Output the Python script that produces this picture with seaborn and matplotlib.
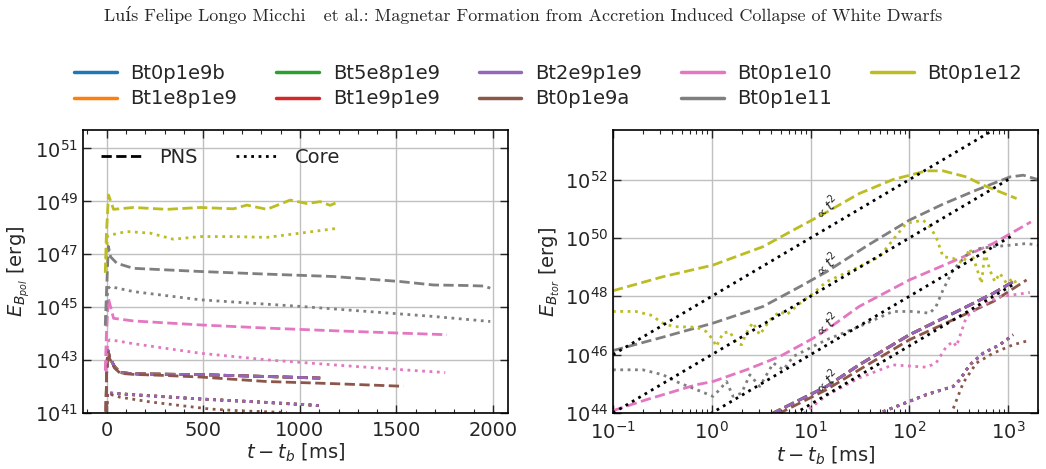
import numpy as np
import matplotlib
matplotlib.use("Agg")
import matplotlib.pyplot as plt
from matplotlib.lines import Line2D
from matplotlib.ticker import AutoMinorLocator, FixedLocator, NullLocator, LogLocator
import seaborn as sns

sns.set_style("ticks", {"axes.grid": True, "grid.color": "#c8c8c8", "axes.edgecolor": "black",
                        "xtick.direction": "in", "ytick.direction": "in",
                        "xtick.top": True, "ytick.right": True})
plt.rcParams["font.family"] = ["DejaVu Sans"]

models = ["Bt0p1e9b", "Bt1e8p1e9", "Bt5e8p1e9", "Bt1e9p1e9", "Bt2e9p1e9",
          "Bt0p1e9a", "Bt0p1e10", "Bt0p1e11", "Bt0p1e12"]
colors = sns.color_palette("tab10", 9)

# energies are stored as log10(E / erg), times in ms
# --- poloidal, PNS (dashed)
pol_pns_t_low = [-5, -1, 5, 15, 40, 70, 138, 484, 829, 1105]
pol_pns_e_low = [40.5, 42.5, 43.38, 43.1, 42.75, 42.53, 42.48, 42.45, 42.38, 42.32]
pol_pns_t_a = [-5, -1, 5, 15, 40, 70, 138, 300, 484, 829, 1174, 1537]
pol_pns_e_a = [40.5, 42.5, 43.3, 43.05, 42.7, 42.5, 42.46, 42.42, 42.36, 42.19, 42.11, 42.01]
pol_pns_t_e10 = [-8, -2, 8, 35, 138, 484, 829, 1174, 1520, 1762]
pol_pns_e_e10 = [42.6, 44.0, 45.34, 44.58, 44.48, 44.33, 44.21, 44.11, 44.02, 43.96]
pol_pns_t_e11 = [-8, -2, 8, 20, 52, 138, 484, 829, 1174, 1520, 1692, 1865, 1952, 1986]
pol_pns_e_e11 = [44.3, 45.5, 47.3, 46.9, 46.66, 46.47, 46.35, 46.25, 46.16, 45.97, 45.84, 45.82, 45.8, 45.72]
pol_pns_t_e12 = [-8, -2, 9, 35, 138, 311, 484, 656, 725, 829, 950, 1036, 1105, 1157, 1200]
pol_pns_e_e12 = [46.3, 47.8, 49.24, 48.7, 48.77, 48.7, 48.77, 48.72, 48.86, 48.7, 49.05, 48.92, 48.99, 48.85, 48.99]

# --- poloidal, core (dotted)
pol_core_t_low = [-5, 3, 20, 138, 484, 829, 1105]
pol_core_e_low = [40.5, 41.78, 41.75, 41.69, 41.53, 41.4, 41.28]
pol_core_t_a = [-5, 3, 20, 67, 223, 534, 700, 933]
pol_core_e_a = [40.5, 41.75, 41.7, 41.6, 41.42, 41.15, 41.08, 41.02]
pol_core_t_e10 = [-5, 5, 17, 138, 484, 829, 1174, 1520, 1753]
pol_core_e_e10 = [42.6, 43.7, 43.77, 43.62, 43.26, 43.01, 42.82, 42.64, 42.53]
pol_core_t_e11 = [-5, 5, 17, 138, 484, 1002, 1347, 1692, 1986]
pol_core_e_e11 = [44.6, 45.7, 45.78, 45.59, 45.28, 45.03, 44.84, 44.65, 44.46]
pol_core_t_e12 = [-5, 5, 50, 104, 225, 345, 484, 656, 829, 1002, 1192]
pol_core_e_e12 = [46.8, 47.7, 47.78, 47.86, 47.8, 47.57, 47.67, 47.67, 47.64, 47.8, 47.98]

# --- toroidal, PNS (dashed)
tor_pns_t_low = [3.0, 4.2, 14.5, 31, 100, 324, 705, 1120]
tor_pns_e_low = [43.7, 44.0, 44.91, 45.65, 46.68, 47.53, 48.1, 48.5]
tor_pns_t_a = [3.5, 4.9, 14.5, 31, 100, 324, 705, 1535]
tor_pns_e_a = [43.7, 44.0, 44.8, 45.48, 46.51, 47.3, 47.82, 48.56]
tor_pns_t_e10 = [0.1, 0.22, 0.70, 1.03, 2.24, 4.9, 10.6, 14.5, 31, 100, 324, 705, 1700]
tor_pns_e_e10 = [44.08, 44.46, 44.97, 45.08, 45.48, 45.94, 46.56, 46.85, 47.65, 48.56, 49.3, 49.81, 50.55]
tor_pns_t_e11 = [0.1, 0.32, 1.03, 3.3, 7.8, 14.5, 38, 100, 219, 476, 1040, 1420, 2000]
tor_pns_e_e11 = [46.14, 46.6, 47.08, 47.65, 48.33, 48.84, 49.75, 50.61, 51.16, 51.64, 52.09, 52.15, 52.0]
tor_pns_t_e12 = [0.1, 0.32, 1.03, 3.3, 6.7, 14.5, 31, 68, 149, 219, 378, 558, 824, 1216]
tor_pns_e_e12 = [48.19, 48.67, 49.07, 49.70, 50.27, 50.88, 51.52, 52.0, 52.30, 52.30, 52.09, 51.81, 51.58, 51.35]

# --- toroidal, core (dotted)
tor_core_t_low = [40, 50, 100, 149, 277, 324, 408, 558, 824, 1122]
tor_core_e_low = [43.8, 44.0, 44.4, 44.63, 44.91, 45.14, 45.65, 46.05, 46.34, 46.68]
tor_core_t_a = [240, 267, 350, 476, 705, 1122, 1596]
tor_core_e_a = [43.7, 44.0, 45.03, 45.71, 46.05, 46.34, 46.48]
tor_core_t_e10 = [7.5, 8.6, 14.5, 31, 68, 149, 186, 237, 277, 299, 378, 516, 824, 1122, 1655]
tor_core_e_e10 = [43.8, 44.0, 44.6, 45.2, 45.65, 45.57, 45.71, 46.28, 46.45, 46.28, 47.3, 47.65, 47.99, 48.05, 48.13]
tor_core_t_e11 = [0.1, 0.2, 0.32, 0.47, 0.70, 1.03, 1.2, 1.41, 1.64, 2.0, 2.43, 3.06, 4.2, 5.3, 6.7,
                  10.6, 14.5, 31, 68, 109, 161, 186, 219, 277, 378, 516, 705, 1040, 1535, 2000]
tor_core_e_e11 = [45.48, 45.48, 45.31, 45.03, 44.8, 44.57, 44.8, 45.08, 44.57, 44.68, 45.31, 44.91, 45.71, 45.48, 45.94,
                  46.28, 46.51, 46.96, 47.48, 47.48, 47.42, 47.65, 48.22, 48.9, 49.41, 49.64, 49.7, 49.75, 49.81, 49.75]
tor_core_t_e12 = [0.1, 0.17, 0.24, 0.32, 0.41, 0.70, 0.88, 1.03, 1.11, 1.3, 1.52, 1.78, 2.0, 2.24, 2.6,
                  3.06, 3.87, 4.9, 5.7, 7.8, 10.6, 14.5, 31, 50, 68, 93, 138, 161, 186, 219,
                  277, 350, 408, 476, 537, 581, 652, 733, 824, 962, 1122, 1260]
tor_core_e_e12 = [47.48, 47.48, 47.36, 47.08, 46.96, 46.94, 46.79, 46.51, 46.28, 46.74, 46.79, 46.39, 46.34, 46.74, 47.1,
                  46.68, 47.19, 47.48, 47.36, 47.76, 48.1, 48.5, 49.01, 49.36, 49.93, 50.5, 50.61, 50.38, 50.04, 49.36,
                  49.3, 49.13, 49.64, 49.01, 48.44, 49.53, 48.9, 48.5, 48.79, 48.44, 48.62, 48.33]

# reference t^2 lines: log10 E at t = 1 ms, drawn over t range
ref_amp = [48.0, 46.0, 44.0, 42.3]
ref_t = [0.1, 1100]
ref_label_t = 14.5
ref_label_e = [51.02, 49.07, 47.02, 45.04]

low_group = models[:5]
pol_pns = {m: (pol_pns_t_low, pol_pns_e_low) for m in low_group}
pol_pns.update({"Bt0p1e9a": (pol_pns_t_a, pol_pns_e_a), "Bt0p1e10": (pol_pns_t_e10, pol_pns_e_e10),
                "Bt0p1e11": (pol_pns_t_e11, pol_pns_e_e11), "Bt0p1e12": (pol_pns_t_e12, pol_pns_e_e12)})
pol_core = {m: (pol_core_t_low, pol_core_e_low) for m in low_group}
pol_core.update({"Bt0p1e9a": (pol_core_t_a, pol_core_e_a), "Bt0p1e10": (pol_core_t_e10, pol_core_e_e10),
                 "Bt0p1e11": (pol_core_t_e11, pol_core_e_e11), "Bt0p1e12": (pol_core_t_e12, pol_core_e_e12)})
tor_pns = {m: (tor_pns_t_low, tor_pns_e_low) for m in low_group}
tor_pns.update({"Bt0p1e9a": (tor_pns_t_a, tor_pns_e_a), "Bt0p1e10": (tor_pns_t_e10, tor_pns_e_e10),
                "Bt0p1e11": (tor_pns_t_e11, tor_pns_e_e11), "Bt0p1e12": (tor_pns_t_e12, tor_pns_e_e12)})
tor_core = {m: (tor_core_t_low, tor_core_e_low) for m in low_group}
tor_core.update({"Bt0p1e9a": (tor_core_t_a, tor_core_e_a), "Bt0p1e10": (tor_core_t_e10, tor_core_e_e10),
                 "Bt0p1e11": (tor_core_t_e11, tor_core_e_e11), "Bt0p1e12": (tor_core_t_e12, tor_core_e_e12)})


def draw(ax, t, e, color, ls):
    sns.lineplot(x=np.asarray(t, float), y=10.0 ** np.asarray(e, float), ax=ax, color=color,
                 linestyle=ls, lw=2, estimator=None, sort=False, legend=False)


fig = plt.figure(figsize=(10.46, 4.69), dpi=100)
ax1 = fig.add_axes([0.0794, 0.1194, 0.4063, 0.6034])
ax2 = fig.add_axes([0.586, 0.1194, 0.4063, 0.6034])
ax1.set_yscale("log")
ax2.set_xscale("log")
ax2.set_yscale("log")

for m, c in zip(models, colors):
    draw(ax1, *pol_pns[m], c, "--")
    draw(ax1, *pol_core[m], c, ":")
    draw(ax2, *tor_pns[m], c, "--")
    draw(ax2, *tor_core[m], c, ":")

for a, le in zip(ref_amp, ref_label_e):
    tt = np.array(ref_t)
    sns.lineplot(x=tt, y=10.0 ** a * tt ** 2, ax=ax2, color="black", linestyle=":", lw=2,
                 estimator=None, sort=False, legend=False)
    ax2.text(ref_label_t, 10.0 ** le, r"$\propto t^2$", rotation=45, fontsize=10,
             ha="center", va="center")

# left panel
ax1.set_xlim(-123, 2078)
ax1.set_ylim(1e41, 5e51)
ax1.yaxis.set_major_locator(FixedLocator([10.0 ** k for k in range(41, 52, 2)]))
ax1.yaxis.set_minor_locator(NullLocator())
ax1.xaxis.set_major_locator(FixedLocator([0, 500, 1000, 1500, 2000]))
ax1.xaxis.set_minor_locator(AutoMinorLocator(5))
ax1.set_xlabel(r"$t - t_b$ [ms]", fontsize=14, labelpad=1)
ax1.set_ylabel(r"$E_{B_{pol}}$ [erg]", fontsize=14, labelpad=2)

# right panel
ax2.set_xlim(0.1, 2000)
ax2.set_ylim(1e44, 5e53)
ax2.yaxis.set_major_locator(FixedLocator([10.0 ** k for k in range(44, 53, 2)]))
ax2.yaxis.set_minor_locator(NullLocator())
ax2.xaxis.set_major_locator(LogLocator(base=10, numticks=10))
ax2.xaxis.set_minor_locator(LogLocator(base=10, subs=np.arange(2, 10), numticks=20))
ax2.set_xlabel(r"$t - t_b$ [ms]", fontsize=14, labelpad=1)
ax2.set_ylabel(r"$E_{B_{tor}}$ [erg]", fontsize=14, labelpad=2)

for ax in (ax1, ax2):
    ax.grid(True, which="major", color="#c0c0c0", lw=1)
    ax.tick_params(which="both", direction="in", top=True, right=True, labelsize=14)
    ax.tick_params(axis="x", which="both", pad=6)
    ax.tick_params(which="major", length=5.5, width=1)
    ax.tick_params(which="minor", length=3, width=0.8)
    for s in ax.spines.values():
        s.set_color("black")
        s.set_linewidth(1.2)

style_handles = [Line2D([], [], color="black", ls="--", lw=2), Line2D([], [], color="black", ls=":", lw=2)]
ax1.legend(style_handles, ["PNS", "Core"], ncol=2, loc="upper left", frameon=False, fontsize=14,
           handlelength=2.2, columnspacing=2.0)

model_handles = [Line2D([], [], color=c, lw=2.5) for c in colors]
fig.legend(model_handles, models, ncol=5, loc="center", bbox_to_anchor=(0.524, 0.8166), frameon=False,
           fontsize=14, handlelength=2.2, handletextpad=0.7, columnspacing=2.0, labelspacing=0.35)

fig.text(0.5, 0.968, "Luís Felipe Longo Micchi   et al.: Magnetar Formation from Accretion Induced Collapse of White Dwarfs",
         ha="center", va="center", family=["cmr10", "DejaVu Serif"], fontsize=13)

fig.savefig("out.png", dpi=100)
